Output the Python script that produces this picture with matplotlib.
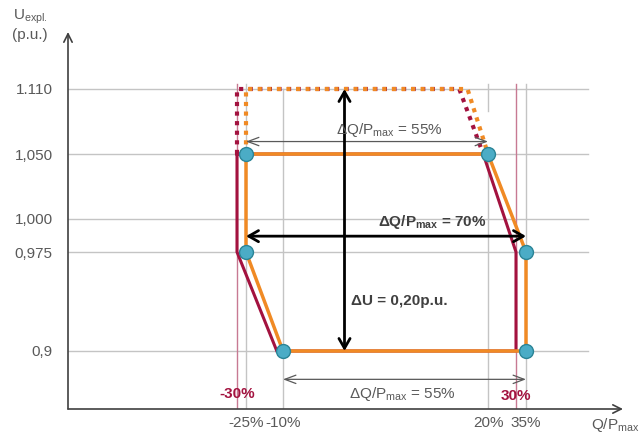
import numpy as np
import matplotlib
matplotlib.use("Agg")
import matplotlib.pyplot as plt

plt.rcParams['font.family'] = ['Liberation Sans', 'DejaVu Sans']
plt.rcParams['mathtext.fontset'] = 'custom'
plt.rcParams['mathtext.rm'] = 'Liberation Sans'
plt.rcParams['mathtext.it'] = 'Liberation Sans:italic'
plt.rcParams['mathtext.bf'] = 'Liberation Sans:bold'

# ---------------- data ----------------
x_ticks = [-25, -10, 20, 35]
x_tick_labels = ["-25%", "-10%", "20%", "35%"]
y_ticks = [0.9, 0.975, 1.0, 1.05, 1.11]
y_tick_labels = ["0,9", "0,975", "1,000", "1,050", "1.110"]

# orange capability polygon (Q/Pmax %, U p.u.)
orange_q = [-25, 20, 35, 35, -10, -25, -25]
orange_u = [1.05, 1.05, 0.975, 0.9, 0.9, 0.975, 1.05]
# dark red capability polygon
red_q = [-30, 19.3, 30, 30, -12.5, -30, -30]
red_u = [1.05, 1.05, 0.975, 0.9, 0.9, 0.975, 1.05]
# dotted extensions to 1.110
orange_dot_q = [-25, -25, 17, 20]
orange_dot_u = [1.05, 1.11, 1.11, 1.05]
red_dot_q = [-30, -30, 15.8, 19.3]
red_dot_u = [1.05, 1.11, 1.11, 1.05]
# marker points
pts_q = [-25, 20, 35, 35, -10, -25]
pts_u = [1.05, 1.05, 0.975, 0.9, 0.9, 0.975]

# schematic (non-linear) axis anchors: data value -> screen position
X_DATA = [-100, -30, -25, -10, 20, 30, 35, 100]
X_POS = [68, 237, 246, 283, 488, 516, 526, 623]
Y_DATA = [0.856, 0.9, 0.975, 1.0, 1.05, 1.11, 1.163]
Y_POS = [-409, -351, -252, -219, -154, -89, -32]

ORANGE = "#F08A24"
RED = "#A3123F"
PINK = "#C77A93"
GRID = "#C4C4C4"
TEXT = "#595959"
DARK = "#404040"

W, H = 641, 436
fig = plt.figure(figsize=(W / 100, H / 100), dpi=100)
ax = fig.add_axes([68 / W, (H - 409) / H, (623 - 68) / W, (409 - 32) / H])

ax.set_xscale('function', functions=(lambda v: np.interp(v, X_DATA, X_POS),
                                     lambda t: np.interp(t, X_POS, X_DATA)))
ax.set_yscale('function', functions=(lambda v: np.interp(v, Y_DATA, Y_POS),
                                     lambda t: np.interp(t, Y_POS, Y_DATA)))
ax.set_xlim(X_DATA[0], X_DATA[-1])
ax.set_ylim(Y_DATA[0], Y_DATA[-1])

for s in ax.spines.values():
    s.set_visible(False)

ax.set_xticks(x_ticks)
ax.set_xticklabels(x_tick_labels)
ax.set_yticks(y_ticks)
ax.set_yticklabels(y_tick_labels)
ax.tick_params(axis='both', length=0, labelsize=11, labelcolor=TEXT)
ax.tick_params(axis='x', pad=5)
ax.tick_params(axis='y', pad=11)
ax.minorticks_off()

# grid lines
for y in y_ticks:
    ax.axhline(y, xmin=0, xmax=0.937, color=GRID, lw=1, zorder=1)
for x in [-25, 35]:
    ax.axvline(x, ymin=0, ymax=0.862, color=GRID, lw=1, zorder=1)
ax.plot([20, 20], [Y_DATA[0], 1.05], color=GRID, lw=1, zorder=1)
ax.plot([20, 20], [1.09, 1.115], color=GRID, lw=1, zorder=1)
ax.plot([-10, -10], [Y_DATA[0], 1.11], color=GRID, lw=1, zorder=1)
for x in [-30, 30]:
    ax.axvline(x, ymin=0, ymax=0.862, color=PINK, lw=1, zorder=1)

# axis arrows
ax.annotate('', xy=(0, 1), xytext=(0, 0), xycoords='axes fraction',
            arrowprops=dict(arrowstyle='->,head_length=0.6,head_width=0.3',
                            color=DARK, lw=1.2, shrinkA=0, shrinkB=0))
ax.annotate('', xy=(1, 0), xytext=(0, 0), xycoords='axes fraction',
            arrowprops=dict(arrowstyle='->,head_length=0.6,head_width=0.3',
                            color=DARK, lw=1.2, shrinkA=0, shrinkB=0))

# dotted extensions
dot = (0, (1.0, 1.3))
ax.plot(red_dot_q, red_dot_u, color=RED, lw=3.0, ls=dot, dash_capstyle='butt', zorder=3)
ax.plot(orange_dot_q, orange_dot_u, color=ORANGE, lw=3.0, ls=dot, dash_capstyle='butt', zorder=3)

# capability polygons
ax.plot(red_q, red_u, color=RED, lw=2.2, solid_joinstyle='miter', zorder=4)
ax.plot(orange_q, orange_u, color=ORANGE, lw=2.5, solid_joinstyle='miter', zorder=5)

# thin gray arrows
thin = dict(arrowstyle='<->,head_length=0.8,head_width=0.3', color=TEXT, lw=0.9,
            shrinkA=0, shrinkB=0)
ax.annotate('', xy=(20, 1.0615), xytext=(-25, 1.0615), arrowprops=thin, zorder=6)
ax.annotate('', xy=(35, 0.8785), xytext=(-10, 0.8785), arrowprops=thin, zorder=6)

# bold black arrows
bold = dict(arrowstyle='<->,head_length=0.7,head_width=0.4', color='black', lw=2.0,
            shrinkA=0, shrinkB=0)
ax.annotate('', xy=(-1, 1.11), xytext=(-1, 0.9), arrowprops=bold, zorder=7)
ax.annotate('', xy=(35, 0.987), xytext=(-25, 0.987), arrowprops=bold, zorder=7)

# markers
ax.plot(pts_q, pts_u, ls='none', marker='o', ms=10, mfc='#4BACC6', mec='#2B8496',
        mew=1.0, zorder=8, clip_on=False)

# annotations
ax.text(5.5, 1.072, r'ΔQ/P$_{\mathrm{max}}$ = 55%', fontsize=11, color=TEXT,
        ha='center', va='center', zorder=9)
ax.text(7.5, 0.8675, r'ΔQ/P$_{\mathrm{max}}$ = 55%', fontsize=11, color=TEXT,
        ha='center', va='center', zorder=9)
ax.text(19.8, 0.998, r'ΔQ/P$_{\mathbf{max}}$ = 70%', fontsize=11, color=DARK,
        fontweight='bold', ha='right', va='center', zorder=9)
ax.text(0, 0.938, 'ΔU = 0,20p.u.', fontsize=11, color=DARK, fontweight='bold',
        ha='left', va='center', zorder=9)
ax.text(-30, 0.867, '-30%', fontsize=11, color=RED, fontweight='bold',
        ha='center', va='center', zorder=9)
ax.text(30, 0.866, '30%', fontsize=11, color=RED, fontweight='bold',
        ha='center', va='center', zorder=9)

# axis labels
fig.text(13 / W, 1 - 17 / H, r'U$_{\mathrm{expl.}}$', fontsize=11, color=TEXT,
         ha='left', va='center')
fig.text(30 / W, 1 - 35 / H, '(p.u.)', fontsize=11, color=TEXT, ha='center', va='center')
fig.text(639 / W, 1 - 425 / H, r'Q/P$_{\mathrm{max}}$', fontsize=11, color=TEXT,
         ha='right', va='center')

fig.savefig('out.png', dpi=100)
